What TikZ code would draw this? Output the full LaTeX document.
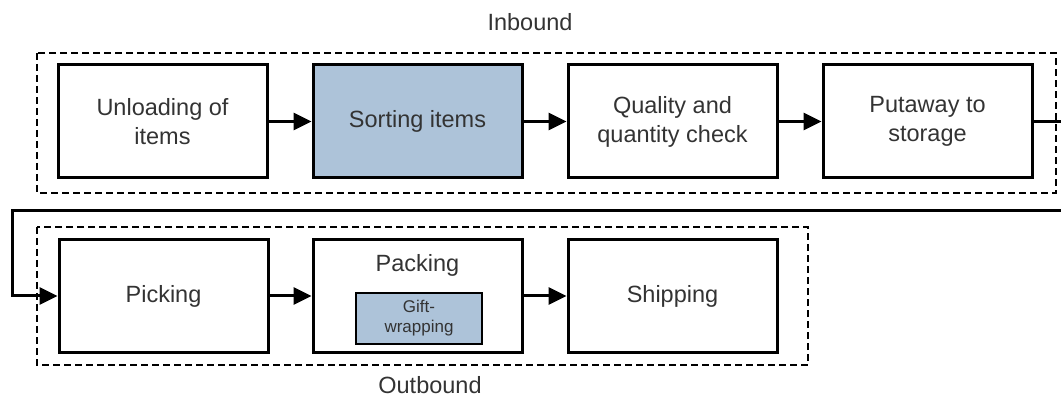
\documentclass[tikz,border=0pt]{standalone}
\usepackage{fontspec}
\setmainfont{Liberation Sans}
\usetikzlibrary{arrows.meta,calc}
\definecolor{boxblue}{HTML}{ADC3D9}
\definecolor{txtgray}{HTML}{333333}
\begin{document}
\begin{tikzpicture}[x=1pt,y=-1pt,
  box/.style={draw=black, line width=3pt, minimum width=209pt, minimum height=113pt,
    inner sep=0pt, align=center, font=\fontsize{23.5}{29}\selectfont, text=txtgray},
  subbox/.style={draw=black, fill=boxblue, line width=2.5pt, minimum width=126pt, minimum height=51pt,
    inner sep=0pt, align=center, font=\fontsize{17}{20}\selectfont, text=txtgray},
  txt/.style={inner sep=0pt, font=\fontsize{23.5}{29}\selectfont, text=txtgray},
  group/.style={draw=black, line width=1.5pt, dash pattern=on 7pt off 4pt},
  flow/.style={line width=3pt, -{Triangle[length=18pt,width=17pt]}}]
\useasboundingbox (0,0) rectangle (1061,406);
% group frames
\draw[group] (37,53) rectangle (1056,193);
\draw[group] (37,227) rectangle (808,365);
\node[txt] (inlbl) at (530,22) {Inbound};
\node[txt] (outlbl) at (430,385) {Outbound};
% top row
\node[box] (unload) at (162.5,121.5) {Unloading of\\items};
\node[box, fill=boxblue] (sort) at (417.5,121.5) {Sorting items};
\node[box] (qual) at (672.5,121.5) {Quality and\\quantity check};
\node[box] (put) at (927.5,121.5) {Putaway to\\storage};
% bottom row
\node[box] (pick) at (163.5,296) {Picking};
\node[box] (pack) at (417.5,296) {};
\node[txt] (packlbl) at (417.5,265) {Packing};
\node[subbox] (gift) at (419,318.5) {Gift-\\wrapping};
\node[box] (ship) at (672.5,296) {Shipping};
% connectors
\coordinate (r1) at (1068,121.5);
\coordinate (r2) at (1068,211);
\coordinate (l1) at (12,211);
\coordinate (l2) at (12,296);
\draw[flow] (unload) -- (sort);
\draw[flow] (sort) -- (qual);
\draw[flow] (qual) -- (put);
\draw[flow, line join=miter] (put.east) -- (r1) -- (r2) -- (l1) -- (l2) -- (pick.west);
\draw[flow] (pick) -- (pack);
\draw[flow] (pack) -- (ship);
\end{tikzpicture}
\end{document}
